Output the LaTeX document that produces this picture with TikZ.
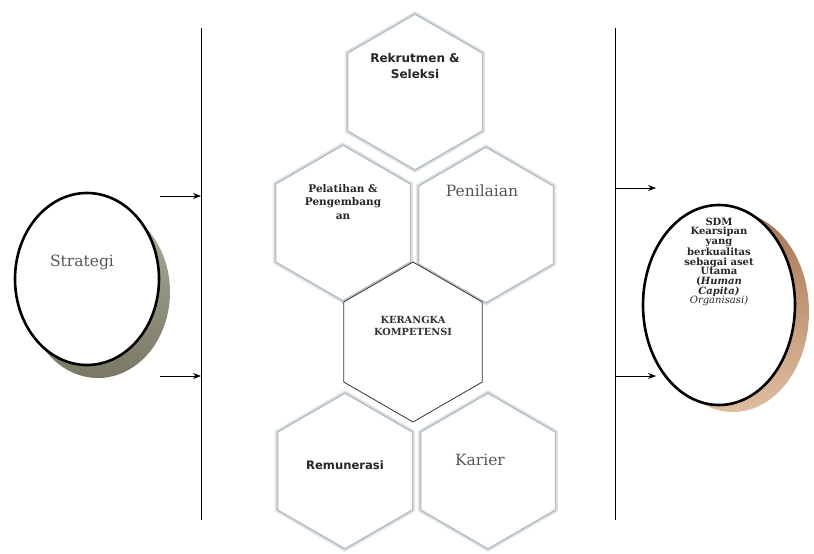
\documentclass[tikz,border=0pt]{standalone}
\usepackage{fontspec}
\setmainfont{DejaVu Serif}
\newfontfamily\boldsans{DejaVu Sans}
\usetikzlibrary{shapes.geometric,arrows.meta}
\definecolor{hexline}{RGB}{182,192,198}
\definecolor{hexhalo}{RGB}{226,230,232}
\definecolor{olivedark}{RGB}{120,120,100}
\definecolor{olivelight}{RGB}{175,175,158}
\definecolor{brownshade}{RGB}{168,118,82}
\definecolor{brownlight}{RGB}{222,190,160}
\definecolor{softtext}{RGB}{85,85,85}
\begin{document}
\begin{tikzpicture}[x=1pt,y=-1pt,
  hexcell/.style={regular polygon, regular polygon sides=6, shape border rotate=30,
    minimum size=156pt, inner sep=0pt, fill=white, draw=hexline, line width=1.6pt,
    preaction={draw=hexhalo, line width=5pt}},
  corehex/.style={regular polygon, regular polygon sides=6, shape border rotate=30,
    minimum size=160pt, inner sep=0pt, fill=white, draw=black!80, line width=0.8pt},
  goal/.style={ellipse, draw=black, line width=2.6pt, fill=white, inner sep=0pt},
  flow/.style={-{Stealth[length=8pt,width=6pt]}, line width=0.8pt},
  boundary/.style={line width=0.8pt},
  sanslabel/.style={font=\boldsans\bfseries\fontsize{12}{16}\selectfont, align=center, text=black!85},
  seriflabel/.style={font=\fontsize{15.5}{17}\selectfont, text=softtext},
  slablabel/.style={font=\bfseries\fontsize{10.5}{13.5}\selectfont, align=center, text=black!85}
]
\useasboundingbox (0,0) rectangle (814,554);

% vertical boundaries
\coordinate (lt) at (201,28);
\coordinate (lb) at (201,520);
\coordinate (rt) at (615,28);
\coordinate (rb) at (615,520);
\draw[boundary] (lt) -- (lb);
\draw[boundary] (rt) -- (rb);

% strategy input with its cast shadow
\shade[top color=olivelight, bottom color=olivedark] (98,292) ellipse [x radius=72, y radius=86];
\node[goal, minimum width=144pt, minimum height=172pt] (strat) at (87,279) {};
\node[seriflabel] (stratlbl) at (82,262) {Strategi};

% outcome with its cast shadow
\shade[top color=brownshade, bottom color=brownlight] (733,312) ellipse [x radius=76, y radius=100];
\node[goal, minimum width=152pt, minimum height=200pt] (sdm) at (719,305) {};
\node[font=\bfseries\fontsize{10}{9.7}\selectfont, align=center, text=black!85] (sdmlbl) at (719,262)
  {SDM\\Kearsipan\\yang\\berkualitas\\sebagai aset\\Utama\\(\textit{Human}\\\textit{Capita)}\\\mdseries\textit{Organisasi)}};

% arrows in and out
\coordinate (a1s) at (160,196); \coordinate (a1e) at (201,196);
\coordinate (a2s) at (160,376); \coordinate (a2e) at (201,376);
\coordinate (b1s) at (615,188); \coordinate (b1e) at (656,188);
\coordinate (b2s) at (615,376); \coordinate (b2e) at (656,376);
\draw[flow] (a1s) -- (a1e);
\draw[flow] (a2s) -- (a2e);
\draw[flow] (b1s) -- (b1e);
\draw[flow] (b2s) -- (b2e);

% honeycomb of HR functions
\node[hexcell] (rek) at (415,92) {};
\node[hexcell] (pel) at (343,223) {};
\node[hexcell] (pen) at (486,225) {};
\node[hexcell] (rem) at (345,471) {};
\node[hexcell] (kar) at (488,471) {};
\node[corehex] (ker) at (413,342) {};

\node[sanslabel] (reklbl) at (415,66) {Rekrutmen \&\\Seleksi};
\node[slablabel] (pellbl) at (343,202) {Pelatihan \&\\Pengembang\\an};
\node[seriflabel] (penlbl) at (482,191) {Penilaian};
\node[font=\bfseries\fontsize{9.8}{12}\selectfont, align=center, text=black!80] (kerlbl) at (413,326) {KERANGKA\\KOMPETENSI};
\node[sanslabel, font=\boldsans\bfseries\fontsize{11.6}{13}\selectfont] (remlbl) at (345,465) {Remunerasi};
\node[seriflabel] (karlbl) at (480,460) {Karier};
\end{tikzpicture}
\end{document}
